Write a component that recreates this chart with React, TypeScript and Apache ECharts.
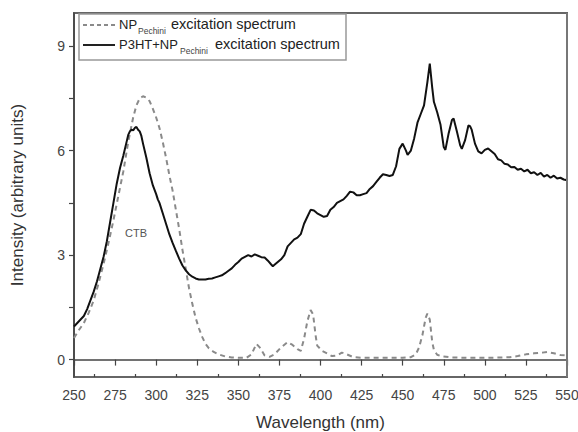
import React, { useEffect, useRef } from "react";
import * as echarts from "echarts";

// P3HT+NP_Pechini excitation spectrum (solid)
const solidX = [250,252,254,256,258,260,262,264,266,268,270,272,274,276,278,280,282,283,284,285,286,287,288,289,290,291,292,294,296,298,300,301,302,304,306,308,310,312,314,316,318,320,322,324,326,328,330,332,334,336,338,340,342,344,346,348,350,352,354,356,358,360,362,364,366,368,370,371,372,374,376,378,380,382,384,386,388,390,392,394,396,398,400,402,404,406,408,410,412,414,416,418,420,422,424,426,428,430,432,434,436,438,440,442,444,446,448,450,452,453,455,457,459,461,463,465,466.5,468,469,471,473,475,476,478,480,481,483,485,486,488,490,491,492,494,496,498,500,502,504,506,508,510,512,514,516,518,520,522,524,526,528,530,532,534,536,538,540,542,544,546,548,550];
const solidY = [0.95,1.05,1.15,1.25,1.45,1.7,1.95,2.25,2.6,2.95,3.4,3.95,4.5,5.05,5.5,5.85,6.25,6.45,6.55,6.6,6.58,6.65,6.68,6.6,6.55,6.42,6.2,5.8,5.35,5.0,4.75,4.6,4.5,4.2,3.9,3.6,3.35,3.12,2.9,2.7,2.56,2.45,2.38,2.33,2.3,2.3,2.3,2.32,2.33,2.36,2.39,2.42,2.48,2.55,2.62,2.72,2.8,2.9,2.95,3.0,2.96,3.02,2.98,2.94,2.93,2.84,2.73,2.68,2.72,2.8,2.88,3.0,3.25,3.35,3.45,3.5,3.6,3.9,4.1,4.3,4.28,4.2,4.15,4.1,4.12,4.3,4.38,4.5,4.55,4.6,4.7,4.82,4.8,4.72,4.72,4.75,4.78,4.9,4.98,5.1,5.22,5.32,5.3,5.27,5.3,5.55,6.05,6.2,6.0,5.88,6.0,6.35,6.8,7.05,7.3,7.95,8.5,7.8,7.4,7.1,6.75,6.1,6.02,6.5,6.88,6.92,6.55,6.15,6.05,6.3,6.72,6.7,6.6,6.2,5.98,5.92,6.02,6.06,5.98,5.9,5.75,5.72,5.62,5.6,5.52,5.53,5.45,5.48,5.4,5.45,5.35,5.38,5.3,5.36,5.25,5.3,5.22,5.28,5.2,5.22,5.17,5.15];

// NP_Pechini excitation spectrum (dashed)
const dashX = [250,253,256,259,262,265,268,271,274,277,280,283,286,288,290,292,294,296,298,300,302,304,306,308,310,312,314,316,318,320,322,324,326,328,330,332,335,338,342,346,350,355,358,361,363,366,369,372,376,380,383,386,388,390,392,394,395.5,397,398,401,404,407,410,413,416,420,425,430,440,450,455,458,460,462,464,465,466.5,468,469,471,474,480,490,500,510,515,520,525,530,535,538,542,546,550];
const dashY = [0.62,0.85,1.05,1.35,1.7,2.2,2.75,3.35,4.0,4.7,5.4,6.25,6.95,7.3,7.5,7.56,7.52,7.42,7.2,6.95,6.65,6.25,5.8,5.3,4.85,4.3,3.75,3.15,2.6,2.05,1.6,1.2,0.9,0.65,0.45,0.33,0.22,0.15,0.09,0.06,0.05,0.05,0.15,0.45,0.35,0.12,0.08,0.15,0.35,0.5,0.42,0.3,0.25,0.6,1.1,1.42,1.3,0.7,0.4,0.25,0.18,0.1,0.12,0.2,0.15,0.07,0.05,0.05,0.05,0.05,0.07,0.15,0.35,0.7,1.2,1.32,1.15,0.5,0.28,0.14,0.09,0.06,0.05,0.05,0.06,0.07,0.1,0.15,0.18,0.2,0.22,0.18,0.13,0.12];

const xLabelTicks = [250,275,300,325,350,375,400,425,450,475,500,525,550];
const xMinorTicks = [262.5,287.5,312.5,337.5,362.5,387.5,412.5,437.5,462.5,487.5,512.5,537.5];
const yLabelTicks = [0,3,6,9];
const yAllTicks = [0,1.5,3,4.5,6,7.5,9];

const FONT = "'Liberation Sans', Arial, sans-serif";

export default function App() {
  const ref = useRef<HTMLDivElement>(null);
  useEffect(() => {
    if (!ref.current) return;
    const chart = echarts.init(ref.current, undefined, { renderer: "svg" });
    const zip = (xs: number[], ys: number[]) => xs.map((x, i) => [x, ys[i]]);
    chart.setOption({
      animation: false,
      backgroundColor: "#fff",
      textStyle: { fontFamily: FONT },
      grid: {
        left: 74, right: 11, top: 13, bottom: 55, outerBoundsMode: "none", containLabel: false,
        show: true, borderColor: "#666", borderWidth: 2, backgroundColor: "transparent",
      },
      xAxis: [
        {
          type: "value", min: 250, max: 550, position: "bottom",
          axisLine: { show: true, lineStyle: { color: "#444", width: 1.5 } },
          axisTick: { show: true, inside: false, length: 6, customValues: xLabelTicks, lineStyle: { color: "#444", width: 1.2 } },
          axisLabel: { show: true, customValues: xLabelTicks, fontSize: 14, color: "#444", margin: 11 },
          splitLine: { show: false },
          name: "Wavelength (nm)", nameLocation: "middle", nameGap: 37,
          nameTextStyle: { fontSize: 17, color: "#333", fontFamily: FONT },
        },
        {
          type: "value", min: 250, max: 550, position: "bottom",
          axisLine: { show: false },
          axisTick: { show: true, inside: true, length: 3, customValues: xMinorTicks, lineStyle: { color: "#444", width: 1.2 } },
          axisLabel: { show: false },
          splitLine: { show: false },
        },
      ],
      yAxis: [
        {
          type: "value", min: -0.5, max: 9.95, position: "left",
          axisLine: { show: true, lineStyle: { color: "#444", width: 1.5 } },
          axisTick: { show: true, inside: false, length: 5, customValues: yAllTicks, lineStyle: { color: "#444", width: 1.2 } },
          axisLabel: { show: true, customValues: yLabelTicks, fontSize: 14, color: "#444", margin: 9 },
          splitLine: { show: false },
          name: "Intensity (arbitrary units)", nameLocation: "middle", nameGap: 48,
          nameTextStyle: { fontSize: 17, color: "#333", fontFamily: FONT },
        },
      ],
      series: [
        {
          type: "line", xAxisIndex: 0, yAxisIndex: 0, showSymbol: false, symbol: "none",
          data: zip(dashX, dashY),
          lineStyle: { color: "#8a8a8a", width: 2, type: [5, 4] },
        },
        {
          type: "line", xAxisIndex: 0, yAxisIndex: 0, showSymbol: false, symbol: "none",
          data: zip(solidX, solidY),
          lineStyle: { color: "#111", width: 2 },
        },
      ],
      graphic: [
        { type: "line", shape: { x1: 567, y1: 13, x2: 567, y2: 377 }, style: { stroke: "#777", lineWidth: 2 }, z: 12 },
        { type: "rect", shape: { x: 79, y: 14, width: 267, height: 46 }, style: { fill: "#fff", stroke: "#999", lineWidth: 1.5 }, z: 10 },
        { type: "line", shape: { x1: 83, y1: 25, x2: 115, y2: 25 }, style: { stroke: "#8a8a8a", lineWidth: 2, lineDash: [4, 3] }, z: 11 },
        { type: "line", shape: { x1: 83, y1: 45, x2: 115, y2: 45 }, style: { stroke: "#222", lineWidth: 2 }, z: 11 },
        { type: "text", x: 119, y: 24, style: { text: "NP", fontSize: 13, fill: "#222", fontFamily: FONT, verticalAlign: "middle" }, z: 11 },
        { type: "text", x: 138, y: 31, style: { text: "Pechini", fontSize: 8.5, fill: "#444", fontFamily: FONT, verticalAlign: "middle" }, z: 11 },
        { type: "text", x: 171, y: 24, style: { text: "excitation spectrum", fontSize: 14.5, fill: "#222", fontFamily: FONT, verticalAlign: "middle" }, z: 11 },
        { type: "text", x: 119, y: 44, style: { text: "P3HT+NP", fontSize: 13, fill: "#222", fontFamily: FONT, verticalAlign: "middle" }, z: 11 },
        { type: "text", x: 180, y: 51, style: { text: "Pechini", fontSize: 8.5, fill: "#444", fontFamily: FONT, verticalAlign: "middle" }, z: 11 },
        { type: "text", x: 215, y: 44, style: { text: "excitation spectrum", fontSize: 14.5, fill: "#222", fontFamily: FONT, verticalAlign: "middle" }, z: 11 },
        { type: "text", x: 136, y: 233, style: { text: "CTB", fontSize: 11, fill: "#555", fontFamily: FONT, align: "center", verticalAlign: "middle" }, z: 11 },
      ],
    });
    return () => chart.dispose();
  }, []);
  return (
    <div
      ref={ref}
      style={{ position: "fixed", left: 0, top: 0, width: 578, height: 432, background: "#fff" }}
    />
  );
}
